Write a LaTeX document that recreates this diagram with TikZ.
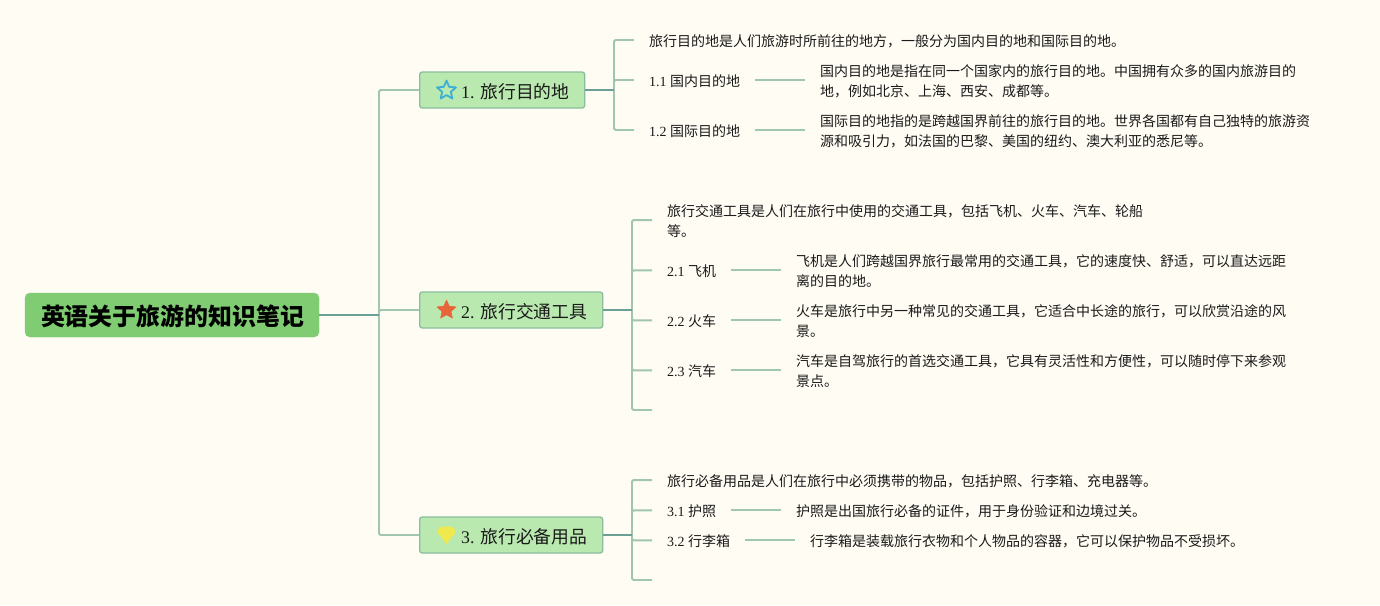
\documentclass[tikz,border=0pt]{standalone}
\usepackage{fontspec}
\setmainfont{Noto Sans CJK SC}
\newfontfamily\latf{Liberation Serif}
\usetikzlibrary{shapes.geometric}
\definecolor{bgc}{HTML}{FFFCF3}
\definecolor{rootfill}{HTML}{7FCC72}
\definecolor{brfill}{HTML}{B9E9AF}
\definecolor{brline}{HTML}{8ABD9F}
\definecolor{lightl}{HTML}{A0C6B2}
\definecolor{darkl}{HTML}{6AA093}
\definecolor{txt}{HTML}{1A1A1A}
\definecolor{iconblue}{HTML}{3DB0D6}
\definecolor{iconorange}{HTML}{E8653A}
\definecolor{iconyellow}{HTML}{EFE84F}
\newcommand{\nm}[1]{{\latf #1}}
\tikzset{
  rootbox/.style={draw=rootfill,fill=rootfill,rounded corners=5pt,inner sep=0pt,minimum width=294pt,minimum height=44pt},
  roottext/.style={inner sep=0pt,font=\fontsize{23.9}{26}\selectfont\bfseries,text=black},
  brbox/.style={draw=brline,line width=1.3pt,fill=brfill,rounded corners=2.5pt,inner sep=0pt,minimum height=36pt,anchor=west},
  brtext/.style={anchor=west,inner sep=0pt,font=\fontsize{17.8}{20}\selectfont,text=txt},
  leaf/.style={anchor=west,inner xsep=15pt,inner ysep=0pt,align=left,text=txt,font=\fontsize{14}{20.3}\selectfont},
  conn/.style={draw=lightl,line width=1.9pt,rounded corners=1.5pt},
  stem/.style={draw=darkl,line width=2.1pt}
}
\begin{document}
\begin{tikzpicture}[x=1pt,y=-1pt]
\useasboundingbox[fill=bgc] (0,0) rectangle (1380,605);

% root and branches
\node[rootbox] (root) at (172,315) {};
\node[roottext] (roott) at (172.5,316) {英语关于旅游的知识笔记};
\node[brbox,minimum width=165pt] (b1) at (419,90) {};
\node[brbox,minimum width=183pt] (b2) at (419,310) {};
\node[brbox,minimum width=183pt] (b3) at (419,535) {};
\node[brtext] (b1t) at (461,91.5) {\nm{1. }旅行目的地};
\node[brtext] (b2t) at (461,311.5) {\nm{2. }旅行交通工具};
\node[brtext] (b3t) at (461,536.5) {\nm{3. }旅行必备用品};

% icons
\node[star,star points=5,star point ratio=2.2,minimum size=20pt,inner sep=0pt,draw=iconblue,line width=1.8pt,line join=round] (ic1) at (446.5,90.5) {};
\node[star,star points=5,star point ratio=2.1,minimum size=20pt,inner sep=0pt,fill=iconorange,draw=iconorange,line width=0.5pt,line join=round] (ic2) at (446.5,310) {};
\fill[iconyellow] (438,529.5) -- (441,526.5) -- (452,526.5) -- (455,529.5) -- (455,533) -- (446.5,544) -- (438,533) -- cycle;

% group junctions
\coordinate (jr) at (379,315);
\coordinate (j1) at (614,90);
\coordinate (j2) at (632,310);
\coordinate (j3) at (632,535);

% leaf nodes, group 1
\node[leaf] (a0) at (634,41) {旅行目的地是人们旅游时所前往的地方，一般分为国内目的地和国际目的地。};
\node[leaf] (a1) at (634,81) {\nm{1.1 }国内目的地};
\node[leaf] (a2) at (634,131) {\nm{1.2 }国际目的地};
\node[leaf] (a1d) at (805,81) {国内目的地是指在同一个国家内的旅行目的地。中国拥有众多的国内旅游目的\\地，例如北京、上海、西安、成都等。};
\node[leaf] (a2d) at (805,131) {国际目的地指的是跨越国界前往的旅行目的地。世界各国都有自己独特的旅游资\\源和吸引力，如法国的巴黎、美国的纽约、澳大利亚的悉尼等。};

% group 2
\node[leaf] (c0) at (652,221) {旅行交通工具是人们在旅行中使用的交通工具，包括飞机、火车、汽车、轮船\\等。};
\node[leaf] (c1) at (652,271) {\nm{2.1 }飞机};
\node[leaf] (c2) at (652,321) {\nm{2.2 }火车};
\node[leaf] (c3) at (652,371) {\nm{2.3 }汽车};
\coordinate (c4) at (652,411);
\node[leaf] (c1d) at (781,271) {飞机是人们跨越国界旅行最常用的交通工具，它的速度快、舒适，可以直达远距\\离的目的地。};
\node[leaf] (c2d) at (781,321) {火车是旅行中另一种常见的交通工具，它适合中长途的旅行，可以欣赏沿途的风\\景。};
\node[leaf] (c3d) at (781,371) {汽车是自驾旅行的首选交通工具，它具有灵活性和方便性，可以随时停下来参观\\景点。};

% group 3
\node[leaf] (e0) at (652,481) {旅行必备用品是人们在旅行中必须携带的物品，包括护照、行李箱、充电器等。};
\node[leaf] (e1) at (652,511) {\nm{3.1 }护照};
\node[leaf] (e2) at (652,541) {\nm{3.2 }行李箱};
\coordinate (e3) at (652,581);
\node[leaf] (e1d) at (781,511) {护照是出国旅行必备的证件，用于身份验证和边境过关。};
\node[leaf] (e2d) at (795,541) {行李箱是装载旅行衣物和个人物品的容器，它可以保护物品不受损坏。};

% connectors (leaf text sits 1px under its connector line)
\draw[conn] (jr) |- (b1.west);
\draw[conn] (jr) |- (b2.west);
\draw[conn] (jr) |- (b3.west);
\foreach \n in {a0,a1,a2} \draw[conn] (j1) |- ([yshift=1pt]\n.west);
\foreach \n in {c0,c1,c2,c3,c4} \draw[conn] (j2) |- ([yshift=1pt]\n);
\foreach \n in {e0,e1,e2,e3} \draw[conn] (j3) |- ([yshift=1pt]\n);
\draw[conn] ([yshift=1pt]a1.east) -- ([yshift=1pt]a1d.west |- a1.east);
\draw[conn] ([yshift=1pt]a2.east) -- ([yshift=1pt]a2d.west |- a2.east);
\draw[conn] ([yshift=1pt]c1.east) -- ([yshift=1pt]c1d.west |- c1.east);
\draw[conn] ([yshift=1pt]c2.east) -- ([yshift=1pt]c2d.west |- c2.east);
\draw[conn] ([yshift=1pt]c3.east) -- ([yshift=1pt]c3d.west |- c3.east);
\draw[conn] ([yshift=1pt]e1.east) -- ([yshift=1pt]e1d.west |- e1.east);
\draw[conn] ([yshift=1pt]e2.east) -- ([yshift=1pt]e2d.west |- e2.east);
\draw[stem] (root.east) -- (jr);
\draw[stem] (b1.east) -- (j1);
\draw[stem] (b2.east) -- (j2);
\draw[stem] (b3.east) -- (j3);
\end{tikzpicture}
\end{document}
